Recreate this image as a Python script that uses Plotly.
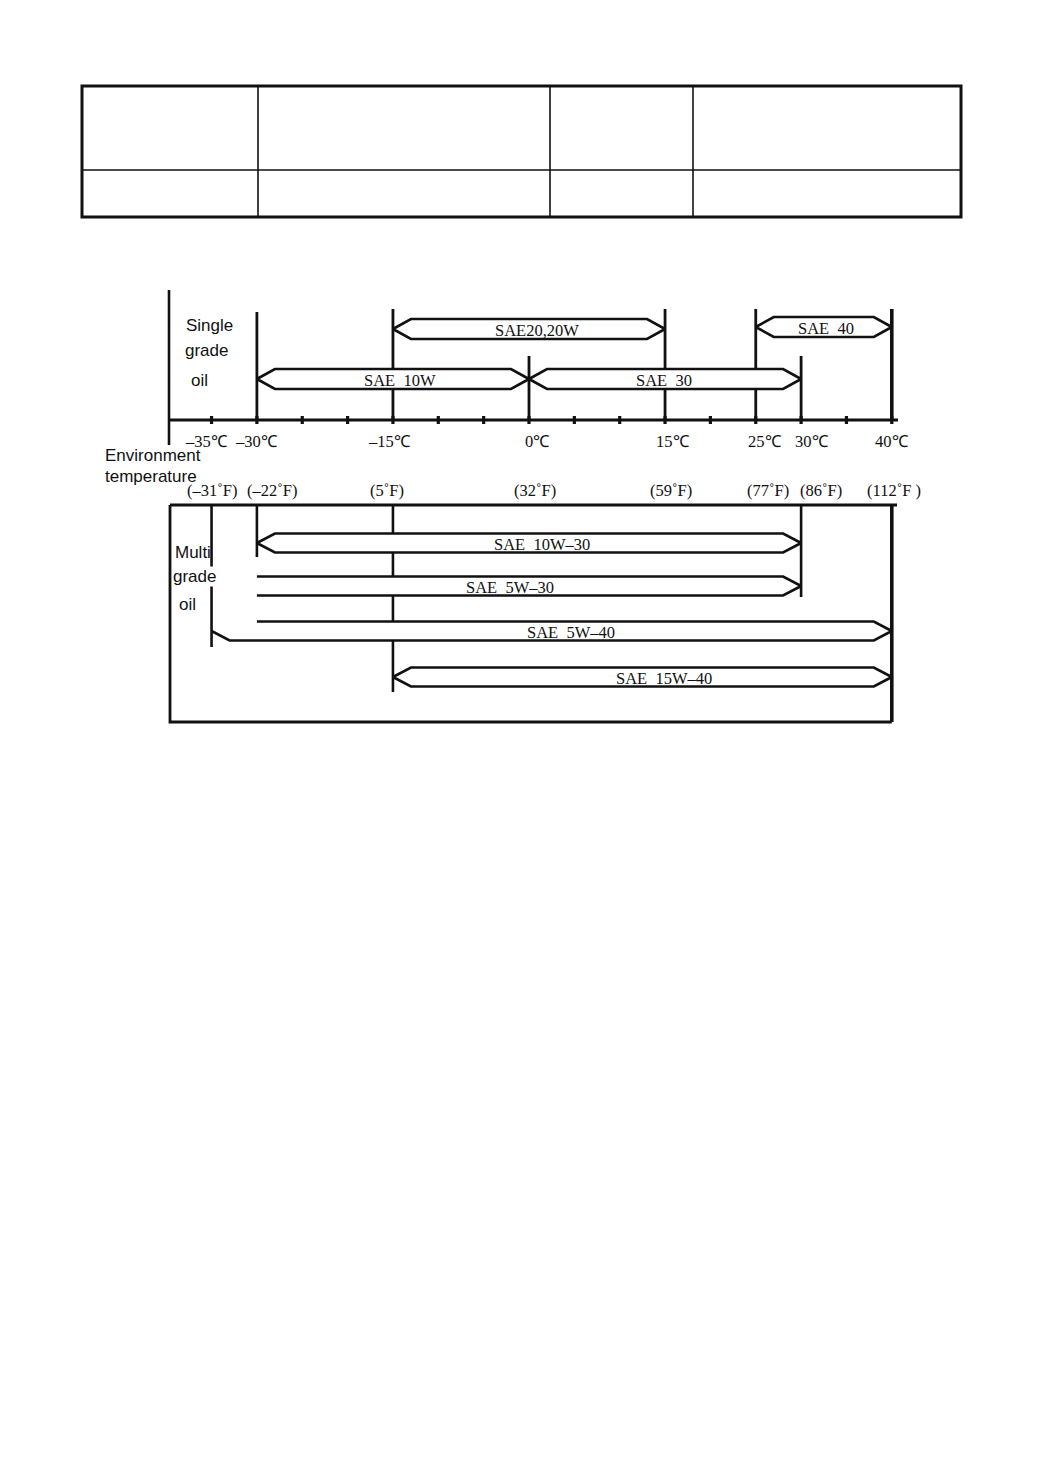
import plotly.graph_objects as go

# ---------------- data ----------------
single_grades = ["SAE20,20W", "SAE\u00a0\u00a040", "SAE\u00a0\u00a010W", "SAE\u00a0\u00a030"]
single_low_c = [-15, 25, -30, 0]
single_high_c = [15, 40, 0, 30]

multi_grades = ["SAE\u00a0\u00a010W\u201330", "SAE\u00a0\u00a05W\u201330", "SAE\u00a0\u00a05W\u201340", "SAE\u00a0\u00a015W\u201340"]
multi_low_c = [-30, -30, -35, -15]
multi_high_c = [30, 30, 40, 40]

celsius_ticks = [-35, -30, -15, 0, 15, 25, 30, 40]
celsius_labels = ["\u201335\u2103", "\u201330\u2103", "\u201315\u2103", "0\u2103", "15\u2103", "25\u2103", "30\u2103", "40\u2103"]
fahrenheit_labels = ["(\u201331\u02daF)", "(\u201322\u02daF)", "(5\u02daF)", "(32\u02daF)", "(59\u02daF)", "(77\u02daF)", "(86\u02daF)", "(112\u02daF )"]
minor_ticks_c = [-35, -30, -25, -20, -15, -10, -5, 0, 5, 10, 15, 20, 25, 30, 35, 40]

upper_marker_c = [-30, -15, 0, 15, 25, 30, 40]
lower_marker_c = [-35, -30, -15, 30, 40]

# ---------------- layout constants (pixels) ----------------
W, H = 1043, 1474
PX_PER_C = 9.07
ZERO_PX = 529.0
TIP_PX = 18.0
TIP_C = TIP_PX / PX_PER_C


def c_from_px(px):
    return (px - ZERO_PX) / PX_PER_C


SERIF = "Liberation Serif, Times New Roman, serif"
SANS = "Liberation Sans, Arial, sans-serif"
INK = "#111111"

single_row_y = [329, 327, 379, 379]
single_half_h = 10
single_ends = [("tip", "tip")] * 4
single_label_shift = [8, 2, 7, -1]

multi_row_y = [543, 586, 631, 677]
multi_half_h = 9.5
multi_ends = [("tip", "tip"), ("open", "tip"), ("broken", "tip"), ("tip", "tip")]
multi_label_shift = [13, -19, 19, 22]
BROKEN_TOP_START_C = -30  # top edge of the broken arrow resumes at the -30 marker

upper_marker_top = [312, 309, 356, 309, 309, 356, 309]
UPPER_AXIS_Y = 420
lower_marker_bottom = [647, 557, 692, 597, 722]
LOWER_BOX_TOP = 505
LOWER_BOX_BOTTOM = 722

celsius_label_shift = [-5, 0, -3, 8, 8, 9, 11, 0]
fahrenheit_label_shift = [0, 15, -6, 6, 6, 12, 20, 2]
CELSIUS_LABEL_Y = 441
FAHRENHEIT_LABEL_Y = 490

fig = go.Figure()


def add_path(xs, ys, width=2.6, fill=False):
    kw = dict(fill="toself", fillcolor="white") if fill else {}
    fig.add_trace(go.Scatter(x=xs, y=ys, mode="lines",
                             line=dict(color=INK, width=width),
                             hoverinfo="skip", showlegend=False, **kw))


def arrow(lo, hi, yc, hh, ends):
    left, right = ends
    top_y, bot_y = yc - hh, yc + hh
    if right == "tip":
        rx = [hi - TIP_C, hi, hi - TIP_C]
        ry = [top_y, yc, bot_y]
    else:
        rx = [hi, hi]
        ry = [top_y, bot_y]
    if left == "tip":
        xs = [lo, lo + TIP_C] + rx + [lo + TIP_C, lo]
        ys = [yc, top_y] + ry + [bot_y, yc]
    elif left == "open":
        xs = [lo] + rx + [lo]
        ys = [top_y] + ry + [bot_y]
    else:  # broken: top edge starts later, bottom keeps its tip stroke
        xs = [BROKEN_TOP_START_C] + rx + [lo + TIP_C, lo]
        ys = [top_y] + ry + [bot_y, yc]
    add_path(xs, ys, 2.6, fill=True)


annotations = []


def label(text, x, y, xshift=0, font=SERIF, size=17, xref="x", xanchor="center", bg=None):
    a = dict(text=text, x=x, y=y, xref=xref, yref="y", xshift=xshift,
             xanchor=xanchor, yanchor="middle", showarrow=False,
             font=dict(family=font, size=size, color=INK))
    if bg:
        a.update(bgcolor=bg, borderpad=0)
    annotations.append(a)


# ---- upper panel (single grade) ----
left_frame_c = c_from_px(169)
axis_right_c = c_from_px(898)
add_path([left_frame_c, left_frame_c], [290, 445], 2.6)
add_path([left_frame_c, axis_right_c], [UPPER_AXIS_Y, UPPER_AXIS_Y], 3)

tx, ty = [], []
for t in minor_ticks_c:
    tx += [t, t, None]
    ty += [UPPER_AXIS_Y - 4, UPPER_AXIS_Y + 4, None]
add_path(tx, ty, 3.2)

for t, top in zip(upper_marker_c, upper_marker_top):
    add_path([t, t], [top, UPPER_AXIS_Y], 3.6 if t == 40 else 2.8)

for lo, hi, yc, ends in zip(single_low_c, single_high_c, single_row_y, single_ends):
    arrow(lo, hi, yc, single_half_h, ends)
for name, lo, hi, yc, sh in zip(single_grades, single_low_c, single_high_c,
                                single_row_y, single_label_shift):
    label(name, (lo + hi) / 2, yc + 1, sh, size=16.5)

for t, txt, sh in zip(celsius_ticks, celsius_labels, celsius_label_shift):
    label(txt, t, CELSIUS_LABEL_Y, sh, size=16.5)
for t, txt, sh in zip(celsius_ticks, fahrenheit_labels, fahrenheit_label_shift):
    label(txt, t, FAHRENHEIT_LABEL_Y, sh, size=16.5)

# ---- lower panel (multi grade) ----
box_left_c = c_from_px(170)
box_right_top_c = c_from_px(897)
add_path([box_left_c, box_right_top_c], [LOWER_BOX_TOP, LOWER_BOX_TOP], 2.8)
add_path([box_left_c, box_left_c, 40], [LOWER_BOX_TOP, LOWER_BOX_BOTTOM, LOWER_BOX_BOTTOM], 2.8)

for t, bottom in zip(lower_marker_c, lower_marker_bottom):
    add_path([t, t], [LOWER_BOX_TOP, bottom], 3.6 if t == 40 else 2.6)

for lo, hi, yc, ends in zip(multi_low_c, multi_high_c, multi_row_y, multi_ends):
    arrow(lo, hi, yc, multi_half_h, ends)
for name, lo, hi, yc, sh in zip(multi_grades, multi_low_c, multi_high_c,
                                multi_row_y, multi_label_shift):
    label(name, (lo + hi) / 2, yc + 1, sh, size=16.5)

# ---- side texts (sans) ----
side_texts = [("Single", 184, 325, None), ("grade", 183, 350, None), ("oil", 189, 380, None),
              ("Environment", 103, 455, None), ("temperature", 103, 476, None),
              ("Multi", 173, 552, None), ("grade", 172, 576, "white"), ("oil", 177, 604, None)]
for txt, px, py, bg in side_texts:
    label(txt, px / W, py, 0, SANS, 17, "paper", "left", bg)

# ---- empty table at top ----
shapes = []
col_x = [82, 258, 550, 693, 961]
row_y = [86, 170, 217]
for cx in col_x[1:-1]:
    shapes.append(dict(type="line", xref="paper", yref="y", x0=cx / W, x1=cx / W,
                       y0=row_y[0], y1=row_y[-1], line=dict(color=INK, width=1.6)))
shapes.append(dict(type="line", xref="paper", yref="y", x0=col_x[0] / W, x1=col_x[-1] / W,
                   y0=row_y[1], y1=row_y[1], line=dict(color=INK, width=1.6)))
shapes.append(dict(type="rect", xref="paper", yref="y", x0=col_x[0] / W, x1=col_x[-1] / W,
                   y0=row_y[0], y1=row_y[-1], line=dict(color=INK, width=3)))

fig.update_layout(
    width=W, height=H, autosize=False,
    margin=dict(l=0, r=0, t=0, b=0, pad=0),
    paper_bgcolor="white", plot_bgcolor="white",
    xaxis=dict(range=[c_from_px(0), c_from_px(W)], visible=False, fixedrange=True),
    yaxis=dict(range=[H, 0], visible=False, fixedrange=True),
    annotations=annotations, shapes=shapes, showlegend=False,
)

fig.write_html("out.html", config={"displayModeBar": False, "staticPlot": True},
               post_script="document.body.style.margin='0';document.body.style.overflow='hidden';")
